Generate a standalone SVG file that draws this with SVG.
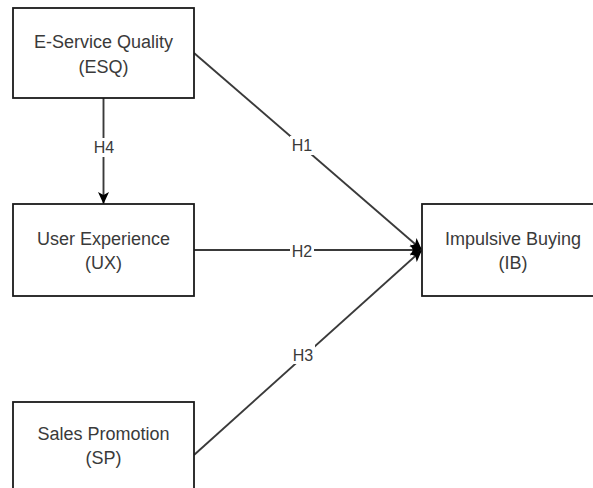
<svg xmlns="http://www.w3.org/2000/svg" width="593" height="488" viewBox="0 0 593 488">
  <style>
    .box { fill: #ffffff; stroke: #1a1a1a; stroke-width: 1.8; }
    .txt { font-family: "Liberation Sans", Arial, sans-serif; font-size: 18px; fill: #3a3a3a; text-anchor: middle; }
    .lbl { font-family: "Liberation Sans", Arial, sans-serif; font-size: 16px; fill: #3a3a3a; text-anchor: middle; }
    .conn { fill: none; stroke: #3a3a3a; stroke-width: 1.9; marker-end: url(#arrow); }
    .lblbg { fill: #ffffff; }
  </style>
  <defs>
    <marker id="arrow" markerUnits="userSpaceOnUse" markerWidth="14" markerHeight="12" refX="12" refY="6" orient="auto">
      <path d="M0,0.5 L12,6 L0,11.5 L3,6 Z" fill="#000000"/>
    </marker>
  </defs>
  <rect width="593" height="488" fill="#ffffff"/>

  <g id="connectors">
    <g id="edge-h1">
      <line class="conn" x1="194" y1="53" x2="422" y2="250"/>
      <rect class="lblbg" x="290" y="136" width="24" height="19"/>
      <text class="lbl" x="302" y="151">H1</text>
    </g>
    <g id="edge-h2">
      <line class="conn" x1="194" y1="250" x2="422" y2="250"/>
      <rect class="lblbg" x="290" y="242" width="24" height="18"/>
      <text class="lbl" x="302" y="257">H2</text>
    </g>
    <g id="edge-h3">
      <line class="conn" x1="194" y1="455" x2="422" y2="250"/>
      <rect class="lblbg" x="291" y="345" width="24" height="19"/>
      <text class="lbl" x="303" y="361">H3</text>
    </g>
    <g id="edge-h4">
      <line class="conn" x1="103.5" y1="98" x2="103.5" y2="204"/>
      <rect class="lblbg" x="92" y="138" width="24" height="19"/>
      <text class="lbl" x="104" y="153">H4</text>
    </g>
  </g>

  <g id="node-esq">
    <rect class="box" x="13" y="8" width="181" height="90"/>
    <text class="txt" x="103.5" y="48">E-Service Quality</text>
    <text class="txt" x="103.5" y="73">(ESQ)</text>
  </g>
  <g id="node-ux">
    <rect class="box" x="13" y="204" width="181" height="92"/>
    <text class="txt" x="103.5" y="245">User Experience</text>
    <text class="txt" x="103.5" y="269">(UX)</text>
  </g>
  <g id="node-sp">
    <rect class="box" x="13" y="402" width="181" height="100"/>
    <text class="txt" x="103.5" y="440">Sales Promotion</text>
    <text class="txt" x="103.5" y="464">(SP)</text>
  </g>
  <g id="node-ib">
    <rect class="box" x="422" y="204" width="182" height="92"/>
    <text class="txt" x="513" y="245">Impulsive Buying</text>
    <text class="txt" x="513" y="269">(IB)</text>
  </g>
</svg>
